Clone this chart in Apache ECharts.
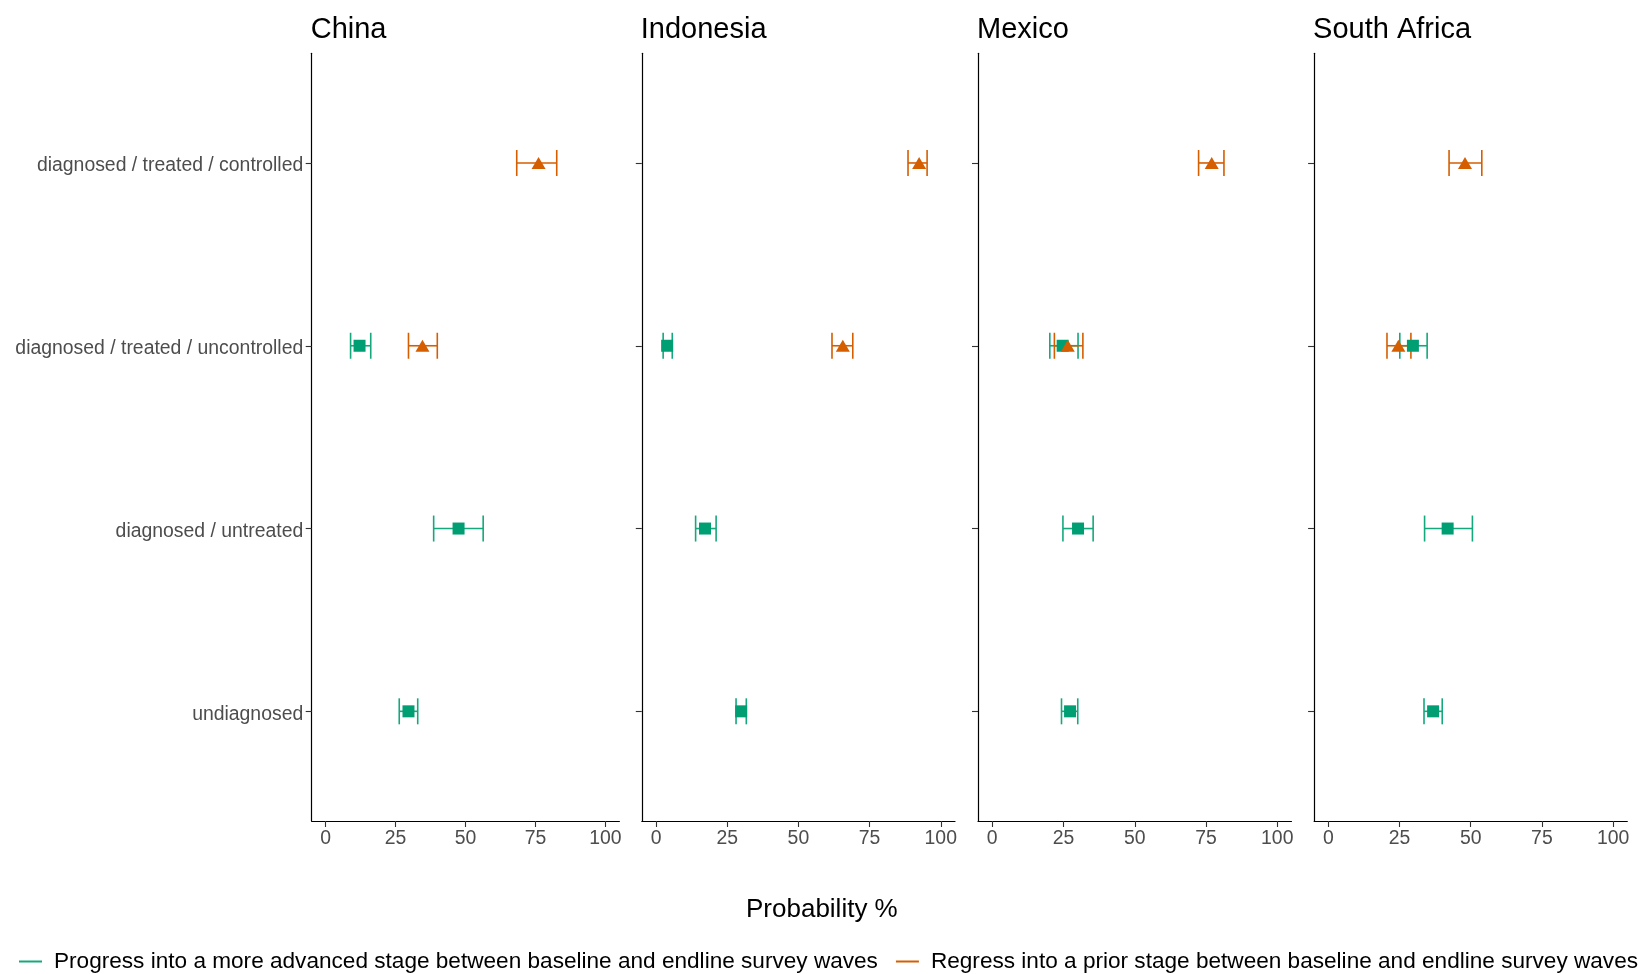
<!DOCTYPE html>
<html>
<head>
<meta charset="utf-8">
<script src="https://cdn.jsdelivr.net/npm/echarts@6/dist/echarts.min.js"></script>
<style>
html,body{margin:0;padding:0;background:#fff;}
#chart{width:1638px;height:974px;}
</style>
</head>
<body>
<div id="chart"></div>
<script>
// ---- data ----
const countries = ['China', 'Indonesia', 'Mexico', 'South Africa'];
// y positions 1..4 from bottom to top
const stages = ['undiagnosed', 'diagnosed / untreated', 'diagnosed / treated / uncontrolled', 'diagnosed / treated / controlled'];
const xTicks = [0, 25, 50, 75, 100];

const progressName = 'Progress into a more advanced stage between baseline and endline survey waves';
const regressName = 'Regress into a prior stage between baseline and endline survey waves';

// Progress: stages undiagnosed, untreated, uncontrolled (y = 1, 2, 3)
const progressStage = [1, 2, 3];
const progressEst = {
  'China':        [29.6, 47.5, 12.1],
  'Indonesia':    [29.9, 17.2, 3.9],
  'Mexico':       [27.3, 30.1, 24.7],
  'South Africa': [36.8, 41.9, 29.7]
};
const progressLow = {
  'China':        [26.3, 38.6, 8.9],
  'Indonesia':    [28.1, 13.9, 2.5],
  'Mexico':       [24.3, 24.8, 20.2],
  'South Africa': [33.6, 33.8, 25.1]
};
const progressHigh = {
  'China':        [32.9, 56.3, 16.1],
  'Indonesia':    [31.7, 21.1, 5.7],
  'Mexico':       [30.0, 35.4, 30.1],
  'South Africa': [40.0, 50.6, 34.7]
};

// Regress: stages uncontrolled, controlled (y = 3, 4)
const regressStage = [3, 4];
const regressEst = {
  'China':        [34.6, 76.1],
  'Indonesia':    [65.6, 92.4],
  'Mexico':       [26.5, 77.0],
  'South Africa': [24.6, 48.0]
};
const regressLow = {
  'China':        [29.6, 68.3],
  'Indonesia':    [61.8, 88.5],
  'Mexico':       [21.8, 72.4],
  'South Africa': [20.6, 42.4]
};
const regressHigh = {
  'China':        [39.9, 82.6],
  'Indonesia':    [69.1, 95.2],
  'Mexico':       [31.8, 81.3],
  'South Africa': [29.0, 53.9]
};

// ---- layout / style ----
const FONT = "'Liberation Sans', Arial, Helvetica, sans-serif";
const GREEN = '#009E73', GREEN_LINE = '#14a87c', ORANGE = '#D55E00';
const panelLeft = [311.7, 641.8, 978.0, 1314.1];
const panelWidth = [307.7, 313.2, 313.5, 313.2];
const panelTop = 53.3, panelHeight = 767.7;

function errorRender(color) {
  return function (params, api) {
    const y = api.value(2);
    const a = api.coord([api.value(0), y]);
    const b = api.coord([api.value(1), y]);
    const h = 13;
    const style = { stroke: color, lineWidth: 1.6, fill: null };
    return {
      type: 'group',
      children: [
        { type: 'line', shape: { x1: a[0], y1: a[1], x2: b[0], y2: b[1] }, style: style },
        { type: 'line', shape: { x1: a[0], y1: a[1] - h, x2: a[0], y2: a[1] + h }, style: style },
        { type: 'line', shape: { x1: b[0], y1: b[1] - h, x2: b[0], y2: b[1] + h }, style: style }
      ]
    };
  };
}

const grid = [], xAxis = [], yAxis = [], series = [], titles = [];
countries.forEach((c, i) => {
  grid.push({ left: panelLeft[i], top: panelTop, width: panelWidth[i], height: panelHeight });
  xAxis.push({
    type: 'value', gridIndex: i, min: -5, max: 105,
    axisLine: { show: true, onZero: false, lineStyle: { color: '#000', width: 1.2 } },
    axisTick: { show: true, length: 6, customValues: xTicks, lineStyle: { color: '#333', width: 1.1 } },
    axisLabel: { show: true, customValues: xTicks, color: '#4D4D4D', fontSize: 19.4, fontFamily: FONT, margin: 8 },
    splitLine: { show: false }
  });
  yAxis.push({
    type: 'value', gridIndex: i, min: 0.4, max: 4.6,
    axisLine: { show: true, onZero: false, lineStyle: { color: '#000', width: 1.2 } },
    axisTick: { show: true, length: 6, customValues: [1, 2, 3, 4], lineStyle: { color: '#333', width: 1.1 } },
    axisLabel: {
      show: i === 0, customValues: [1, 2, 3, 4], color: '#4D4D4D', fontSize: 19.4, fontFamily: FONT, margin: 8.5,
      formatter: v => '{s|' + stages[Math.round(v) - 1] + '}',
      rich: { s: { color: '#4D4D4D', fontSize: 19.4, fontFamily: FONT, padding: [6, 0, 0, 0] } }
    },
    splitLine: { show: false }
  });
  titles.push({
    text: c, left: panelLeft[i] - 1, top: 15, padding: 0,
    textStyle: { fontSize: 29, fontWeight: 'normal', color: '#000', fontFamily: FONT }
  });

  const pErr = progressStage.map((s, k) => [progressLow[c][k], progressHigh[c][k], s]);
  const rErr = regressStage.map((s, k) => [regressLow[c][k], regressHigh[c][k], s]);
  const pPts = progressStage.map((s, k) => [progressEst[c][k], s]);
  const rPts = regressStage.map((s, k) => [regressEst[c][k], s]);

  series.push({
    type: 'custom', name: progressName, xAxisIndex: i, yAxisIndex: i,
    renderItem: errorRender(GREEN_LINE), data: pErr, itemStyle: { color: GREEN_LINE },
    encode: { x: [0, 1], y: 2 }, silent: true, z: 2
  });
  series.push({
    type: 'custom', name: regressName, xAxisIndex: i, yAxisIndex: i,
    renderItem: errorRender(ORANGE), data: rErr, itemStyle: { color: ORANGE },
    encode: { x: [0, 1], y: 2 }, silent: true, z: 3
  });
  series.push({
    type: 'scatter', name: progressName, xAxisIndex: i, yAxisIndex: i,
    symbol: 'rect', symbolSize: 12, data: pPts, itemStyle: { color: GREEN, opacity: 1 }, z: 4
  });
  series.push({
    type: 'scatter', name: regressName, xAxisIndex: i, yAxisIndex: i,
    symbol: 'triangle', symbolSize: [14, 12], data: rPts, itemStyle: { color: ORANGE, opacity: 1 }, z: 5
  });
});

titles.push({
  text: 'Probability %', left: 746, top: 897, padding: 0,
  textStyle: { fontSize: 26, fontWeight: 'normal', color: '#000', fontFamily: FONT }
});

const chart = echarts.init(document.getElementById('chart'), null, { renderer: 'canvas' });
chart.setOption({
  backgroundColor: '#fff',
  animation: false,
  title: titles,
  grid: grid,
  xAxis: xAxis,
  yAxis: yAxis,
  legend: {
    left: 19, top: 950, width: 1700, padding: 0, itemGap: 18, itemWidth: 23, itemHeight: 2,
    selectedMode: false,
    textStyle: { fontSize: 22.6, color: '#000', fontFamily: FONT, padding: [0, 0, 0, 7] },
    data: [
      { name: progressName, icon: 'rect', itemStyle: { color: GREEN_LINE } },
      { name: regressName, icon: 'rect', itemStyle: { color: ORANGE } }
    ]
  },
  series: series
});
</script>
</body>
</html>
